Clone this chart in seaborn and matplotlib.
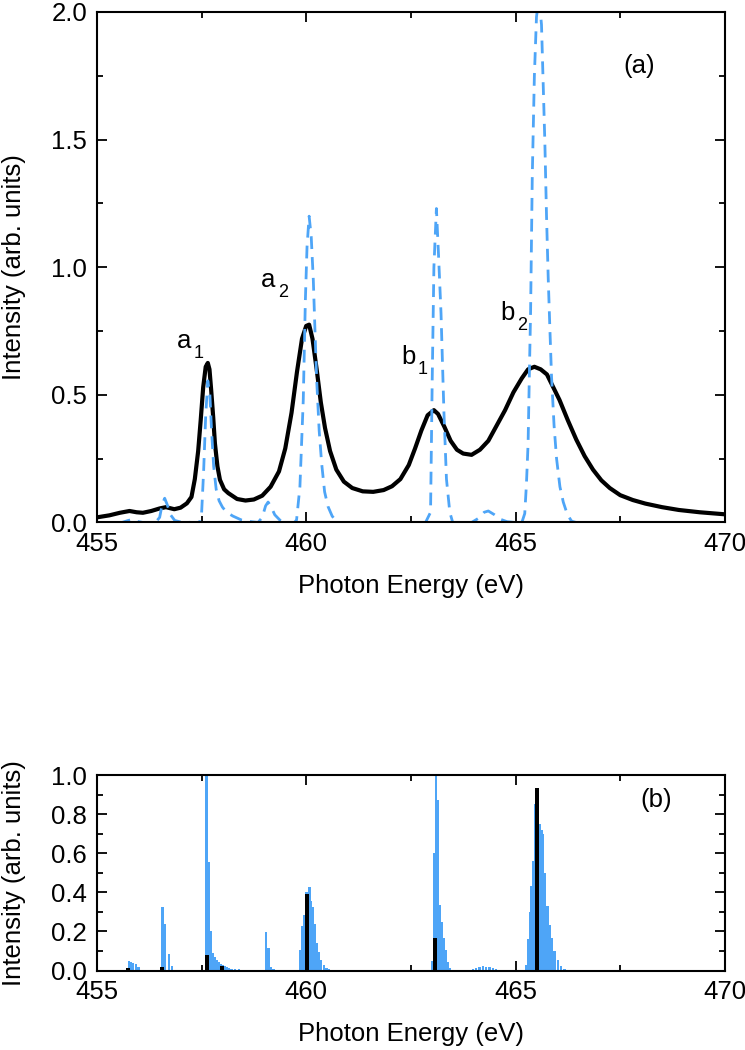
import matplotlib
matplotlib.use("Agg")
import matplotlib.pyplot as plt
import seaborn as sns
import pandas as pd
from matplotlib.ticker import MultipleLocator

# (a) broadened spectrum, solid black
broad_e = [455.0, 455.3, 455.55, 455.78, 455.95, 456.1, 456.3, 456.5, 456.65, 456.85,
           457.0, 457.15, 457.26, 457.34, 457.42, 457.48, 457.54, 457.6, 457.65, 457.69,
           457.73, 457.78, 457.82, 457.88, 457.94, 458.04, 458.14, 458.35, 458.55, 458.75,
           458.95, 459.15, 459.35, 459.5, 459.65, 459.78, 459.9, 460.0, 460.07, 460.15,
           460.25, 460.35, 460.45, 460.57, 460.72, 460.9, 461.1, 461.35, 461.6, 461.85,
           462.05, 462.25, 462.45, 462.6, 462.75, 462.9, 463.05, 463.15, 463.3, 463.45,
           463.6, 463.75, 463.95, 464.15, 464.35, 464.55, 464.75, 464.95, 465.15, 465.3,
           465.45, 465.6, 465.75, 465.9, 466.05, 466.25, 466.45, 466.65, 466.85, 467.05,
           467.25, 467.5, 467.8, 468.1, 468.5, 468.9, 469.4, 470.0]
broad_i = [0.02, 0.028, 0.038, 0.045, 0.04, 0.038, 0.045, 0.055, 0.06, 0.052,
           0.058, 0.075, 0.10, 0.17, 0.28, 0.40, 0.53, 0.61, 0.625, 0.60,
           0.52, 0.41, 0.31, 0.22, 0.167, 0.13, 0.115, 0.092, 0.086, 0.09,
           0.105, 0.14, 0.2, 0.29, 0.43, 0.59, 0.72, 0.77, 0.775, 0.72,
           0.6, 0.47, 0.37, 0.28, 0.207, 0.16, 0.135, 0.122, 0.12, 0.127,
           0.142, 0.17, 0.225, 0.29, 0.36, 0.42, 0.44, 0.425, 0.375, 0.32,
           0.285, 0.27, 0.265, 0.285, 0.32, 0.38, 0.44, 0.51, 0.565, 0.6,
           0.61, 0.6, 0.58, 0.53, 0.48, 0.4, 0.325, 0.26, 0.207, 0.165,
           0.135, 0.107, 0.088, 0.074, 0.06, 0.049, 0.04, 0.032]

# (a) narrow spectrum, dashed blue
narrow_e = [455.0, 455.6, 455.75, 455.85, 455.95, 456.1, 456.4, 456.5, 456.56, 456.62,
            456.68, 456.76, 456.86, 457.0, 457.3, 457.45, 457.5, 457.55, 457.6, 457.65,
            457.7, 457.74, 457.79, 457.85, 457.92, 458.0, 458.1, 458.25, 458.45, 458.7,
            458.85, 458.95, 459.03, 459.09, 459.15, 459.25, 459.38, 459.5, 459.72, 459.77,
            459.85, 459.93, 459.98, 460.02, 460.07, 460.12, 460.17, 460.21, 460.25, 460.31,
            460.37, 460.44, 460.52, 460.62, 460.72, 460.8, 462.85, 462.97, 463.01, 463.05,
            463.11, 463.16, 463.22, 463.29, 463.35, 463.43, 463.5, 463.95, 464.1, 464.25,
            464.35, 464.5, 464.65, 464.8, 465.0, 465.15, 465.22, 465.26, 465.3, 465.33,
            465.36, 465.4, 465.45, 465.5, 465.56, 465.62, 465.66, 465.7, 465.74, 465.78,
            465.82, 465.86, 465.92, 465.98, 466.06, 466.14, 466.24, 466.34, 466.45, 470.0]
narrow_i = [0.0, 0.0, 0.008, 0.012, 0.005, 0.0, 0.0, 0.02, 0.07, 0.095,
            0.07, 0.03, 0.008, 0.002, 0.0, 0.0, 0.03, 0.2, 0.42, 0.555,
            0.5, 0.36, 0.22, 0.13, 0.085, 0.06, 0.04, 0.025, 0.01, 0.003,
            0.0, 0.02, 0.065, 0.08, 0.065, 0.03, 0.008, 0.0, 0.0, 0.01,
            0.14, 0.48, 0.87, 1.08, 1.2, 1.12, 0.95, 0.75, 0.56, 0.36,
            0.23, 0.12, 0.063, 0.025, 0.005, 0.0, 0.0, 0.04, 0.56, 1.0,
            1.23, 1.05, 0.82, 0.43, 0.17, 0.04, 0.0, 0.0, 0.015, 0.04,
            0.045, 0.03, 0.012, 0.003, 0.0, 0.0, 0.035, 0.15, 0.31, 0.58,
            0.83, 1.36, 1.75, 1.98, 2.06, 1.95, 1.72, 1.49, 1.2, 0.96,
            0.76, 0.57, 0.38, 0.25, 0.14, 0.08, 0.03, 0.005, 0.0, 0.0]

# (b) stick spectrum, blue
stick_e = [455.77, 455.82, 455.87, 455.93, 455.99, 456.57, 456.63, 456.73, 456.79,
           457.62, 457.67, 457.72, 457.76, 457.81, 457.86, 457.91, 457.96, 458.01, 458.06,
           458.11, 458.16, 458.22, 458.3, 458.4, 458.5, 458.6, 458.7, 458.8,
           459.04, 459.1, 459.16, 459.22, 459.28,
           459.86, 459.91, 459.95, 460.0, 460.04, 460.08, 460.12, 460.16, 460.21, 460.26,
           460.31, 460.36, 460.42, 460.48, 460.55, 460.62,
           463.02, 463.06, 463.1, 463.14, 463.18, 463.23, 463.28, 463.33, 463.38, 463.43,
           463.9, 463.98, 464.06, 464.14, 464.22, 464.3, 464.38, 464.46, 464.54, 464.62,
           465.26, 465.3, 465.34, 465.38, 465.42, 465.46, 465.5, 465.54, 465.58, 465.62,
           465.66, 465.7, 465.76, 465.81, 465.87, 465.93, 466.01, 466.09, 466.17]
stick_i = [0.05, 0.045, 0.04, 0.032, 0.02, 0.324, 0.24, 0.083, 0.022,
           1.0, 0.555, 0.2, 0.088, 0.068, 0.053, 0.043, 0.035, 0.028, 0.022,
           0.017, 0.013, 0.01, 0.008, 0.006, 0.005, 0.005, 0.004, 0.003,
           0.197, 0.114, 0.02, 0.01, 0.005,
           0.104, 0.23, 0.286, 0.4, 0.4, 0.428, 0.357, 0.327, 0.237, 0.142,
           0.093, 0.053, 0.027, 0.015, 0.007, 0.004,
           0.05, 0.6, 1.0, 0.87, 0.337, 0.246, 0.165, 0.104, 0.044, 0.012,
           0.004, 0.008, 0.013, 0.018, 0.022, 0.02, 0.016, 0.012, 0.008, 0.004,
           0.03, 0.16, 0.3, 0.43, 0.56, 0.85, 0.93, 0.9, 0.75, 0.72,
           0.7, 0.5, 0.33, 0.235, 0.165, 0.1, 0.053, 0.022, 0.007]

# (b) stick spectrum, black
main_e = [455.5, 455.75, 456.1, 456.27, 456.55, 457.0, 457.63, 457.98, 458.9,
          460.02, 462.2, 462.3, 463.08, 465.52]
main_i = [0.003, 0.012, 0.003, 0.003, 0.016, 0.003, 0.077, 0.022, 0.003,
          0.39, 0.003, 0.003, 0.165, 0.935]

peak_labels = ['a', 'a', 'b', 'b']
peak_subs = ['1', '2', '1', '2']
label_e = [456.92, 458.92, 462.27, 464.64]
label_i = [0.71, 0.95, 0.65, 0.82]

blue = '#4ea5f7'

sns.set_style("ticks")
plt.rcParams['font.family'] = ['Liberation Sans', 'DejaVu Sans']
plt.rcParams['axes.linewidth'] = 1.5
for key in ['text.color', 'axes.labelcolor', 'xtick.color', 'ytick.color', 'axes.edgecolor']:
    plt.rcParams[key] = 'black'

fig = plt.figure(figsize=(7.45, 10.5), dpi=100)
ax1 = fig.add_axes([0.130, 0.5024, 0.843, 0.4862])
ax2 = fig.add_axes([0.130, 0.0757, 0.843, 0.1862])

df_broad = pd.DataFrame({'E': broad_e, 'I': broad_i})
df_narrow = pd.DataFrame({'E': narrow_e, 'I': narrow_i})

sns.lineplot(data=df_broad, x='E', y='I', ax=ax1, color='black', lw=3.0,
             estimator=None, sort=False)
sns.lineplot(data=df_narrow, x='E', y='I', ax=ax1, color=blue, lw=2.0,
             estimator=None, sort=False)
ax1.lines[-1].set_linestyle((0, (4.6, 2.9)))

for lab, sub, e, i in zip(peak_labels, peak_subs, label_e, label_i):
    ax1.text(e, i, lab, fontsize=18.5, ha='left', va='center')
    ax1.annotate(sub, (e, i), xytext=(12, -9), textcoords='offset points',
                 fontsize=13, ha='left', va='center')
ax1.text(467.95, 1.79, '(a)', fontsize=18.5, ha='center', va='center')

ax2.bar(stick_e, stick_i, width=0.058, color=blue, linewidth=0)
ax2.bar(main_e, main_i, width=0.1, color='black', linewidth=0)
ax2.text(468.35, 0.87, '(b)', fontsize=18.5, ha='center', va='center')

for ax, ymax, major, minor in [(ax1, 2.0, 0.5, 0.25), (ax2, 1.0, 0.2, 0.1)]:
    ax.set_xlim(455, 470)
    ax.set_ylim(0, ymax)
    ax.xaxis.set_major_locator(MultipleLocator(5))
    ax.xaxis.set_minor_locator(MultipleLocator(2.5))
    ax.yaxis.set_major_locator(MultipleLocator(major))
    ax.yaxis.set_minor_locator(MultipleLocator(minor))
    ax.yaxis.set_major_formatter(matplotlib.ticker.FormatStrFormatter('%.1f'))
    ax.tick_params(which='both', direction='in', top=True, right=True,
                   width=1.3, labelsize=18.5, pad=7, color='black', labelcolor='black')
    ax.tick_params(which='major', length=7)
    ax.tick_params(which='minor', length=4)
    for s in ax.spines.values():
        s.set_visible(True)
        s.set_linewidth(1.5)
        s.set_color('black')
    ax.set_xlabel('Photon Energy (eV)', fontsize=18.5, labelpad=13)
    ax.set_ylabel('Intensity (arb. units)', fontsize=18.5)
    ax.yaxis.set_label_coords(-0.113, 0.5)

fig.savefig('out.png', dpi=100)
